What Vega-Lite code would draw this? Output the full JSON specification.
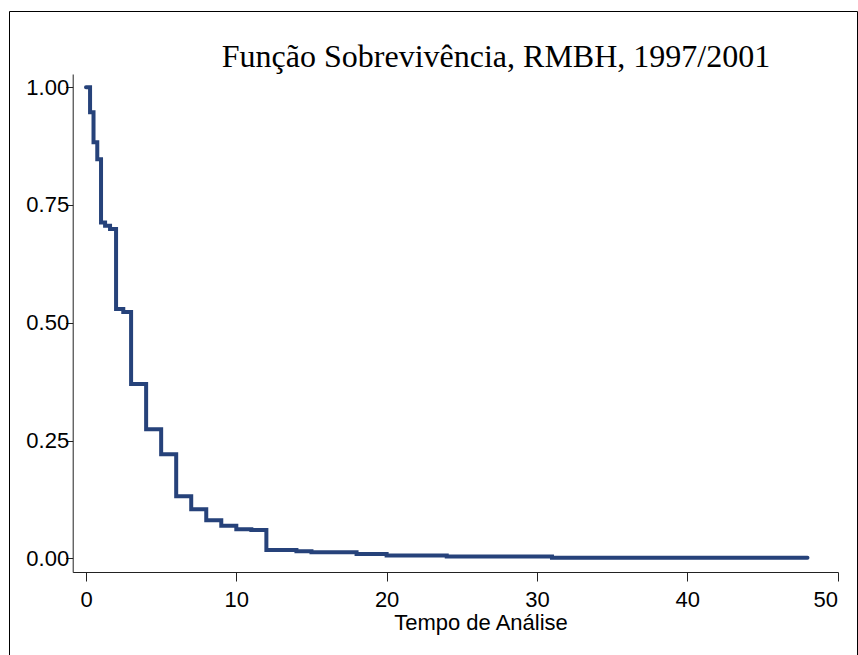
{
  "$schema": "https://vega.github.io/schema/vega-lite/v6.json",
  "width": 848,
  "height": 645,
  "autosize": {"type": "none"},
  "padding": {"left": 9, "top": 11, "right": 1, "bottom": 0},
  "background": "white",
  "title": {
    "text": "Função Sobrevivência, RMBH, 1997/2001",
    "font": "Liberation Serif",
    "fontSize": 32,
    "fontWeight": "normal",
    "color": "black",
    "anchor": "middle",
    "frame": "group",
    "baseline": "alphabetic",
    "offset": 0,
    "dx": 63,
    "dy": 88
  },
  "config": {
    "view": {"stroke": "black", "strokeWidth": 1},
    "axis": {
      "grid": false,
      "labelFont": "Liberation Sans",
      "labelFontSize": 22,
      "labelColor": "black",
      "titleFont": "Liberation Sans",
      "titleFontSize": 22,
      "titleFontWeight": "normal",
      "titleColor": "black",
      "domainColor": "#222",
      "domainWidth": 1,
      "tickColor": "#222",
      "tickWidth": 1
    }
  },
  "data": {
    "values": [
      {"t": 0, "s": 1.0},
      {"t": 0.27, "s": 0.947},
      {"t": 0.5, "s": 0.883},
      {"t": 0.75, "s": 0.847},
      {"t": 1.0, "s": 0.713},
      {"t": 1.27, "s": 0.706},
      {"t": 1.6, "s": 0.699},
      {"t": 2.0, "s": 0.529},
      {"t": 2.48, "s": 0.523},
      {"t": 3.0, "s": 0.37},
      {"t": 4.0, "s": 0.274},
      {"t": 5.0, "s": 0.221},
      {"t": 6.0, "s": 0.132},
      {"t": 7.0, "s": 0.104},
      {"t": 8.0, "s": 0.081},
      {"t": 9.0, "s": 0.069},
      {"t": 10.0, "s": 0.062},
      {"t": 11.0, "s": 0.06},
      {"t": 12.0, "s": 0.0176},
      {"t": 14.0, "s": 0.015},
      {"t": 15.0, "s": 0.0127},
      {"t": 18.0, "s": 0.009},
      {"t": 20.0, "s": 0.006},
      {"t": 24.0, "s": 0.004},
      {"t": 31.0, "s": 0.0015},
      {"t": 48.0, "s": 0.0015}
    ]
  },
  "mark": {
    "type": "line",
    "interpolate": "step-after",
    "color": "#26427a",
    "strokeWidth": 4,
    "strokeCap": "round"
  },
  "encoding": {
    "x": {
      "field": "t",
      "type": "quantitative",
      "scale": {"domain": [-0.885, 50.03], "range": [63.7, 829], "nice": false, "zero": false},
      "axis": {
        "values": [0, 10, 20, 30, 40, 50],
        "format": "d",
        "offset": -84,
        "tickSize": 9,
        "labelPadding": 8,
        "title": "Tempo de Análise",
        "titleX": 471.5,
        "titleY": 57,
        "titleBaseline": "alphabetic",
        "titleAnchor": null
      }
    },
    "y": {
      "field": "s",
      "type": "quantitative",
      "scale": {"domain": [-0.029, 1.028], "range": [561, 63], "nice": false, "zero": false},
      "axis": {
        "values": [0, 0.25, 0.5, 0.75, 1],
        "format": ".2f",
        "offset": -63.7,
        "tickSize": 7,
        "labelPadding": -3,
        "title": null
      }
    }
  }
}
